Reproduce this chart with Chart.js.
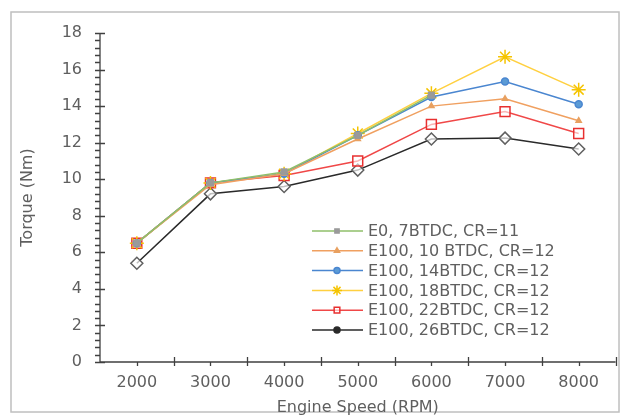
<!DOCTYPE html>
<html>
<head>
<meta charset="utf-8">
<script src="https://cdn.jsdelivr.net/npm/chart.js@4"></script>
<style>
  html, body { margin: 0; padding: 0; background: #fff; }
  #wrap { width: 624px; height: 420px; }
</style>
</head>
<body>
<div id="wrap"><canvas id="torqueChart" width="624" height="420"></canvas></div>
<script>
const speeds = ['2000', '3000', '4000', '5000', '6000', '7000', '8000'];

const e0_7btdc = [6.5, 9.8, 10.4, 12.4, 14.6, null, null];
const e100_10btdc = [6.5, 9.7, 10.3, 12.2, 14.0, 14.4, 13.2];
const e100_14btdc = [6.5, 9.8, 10.3, 12.4, 14.5, 15.35, 14.1];
const e100_18btdc = [6.5, 9.8, 10.3, 12.5, 14.7, 16.7, 14.9];
const e100_22btdc = [6.5, 9.8, 10.2, 11.0, 13.0, 13.7, 12.5];
const e100_26btdc = [5.4, 9.2, 9.6, 10.5, 12.2, 12.25, 11.65];

const seriesNames = [
  'E0, 7BTDC, CR=11',
  'E100, 10 BTDC, CR=12',
  'E100, 14BTDC, CR=12',
  'E100, 18BTDC, CR=12',
  'E100, 22BTDC, CR=12',
  'E100, 26BTDC, CR=12'
];

const FONT = '"DejaVu Sans", sans-serif';
const GREY_TEXT = '#5f5f5f';

function makeSet(label, data, color, style, radius, fill, edge) {
  return {
    label: label,
    data: data,
    borderColor: color,
    borderWidth: 1.5,
    pointStyle: style,
    pointRadius: radius,
    pointHoverRadius: radius,
    pointBackgroundColor: fill,
    pointBorderColor: edge,
    pointBorderWidth: 1.5,
    tension: 0,
    spanGaps: false
  };
}

const datasets = [
  makeSet(seriesNames[0], e0_7btdc, '#8fbf6a', 'rect', 4, '#9a9a9a', '#9a9a9a'),
  makeSet(seriesNames[1], e100_10btdc, '#f0a060', 'triangle', 3, '#e8a060', '#e8a060'),
  makeSet(seriesNames[2], e100_14btdc, '#4a86d0', 'circle', 3.5, '#5b9bd5', '#4a86d0'),
  makeSet(seriesNames[3], e100_18btdc, '#ffd040', 'star', 7, '#ffd040', '#f5c400'),
  makeSet(seriesNames[4], e100_22btdc, '#f04848', 'rect', 7, 'rgba(255,255,255,0.6)', '#e83030'),
  makeSet(seriesNames[5], e100_26btdc, '#2a2a2a', 'rectRot', 6, 'rgba(255,255,255,0.7)', '#606060')
];

// frame, axis ticks and in-plot legend
const decorations = {
  id: 'decorations',
  beforeDraw(chart) {
    const ctx = chart.ctx;
    ctx.save();
    ctx.fillStyle = '#fff';
    ctx.fillRect(0, 0, chart.width, chart.height);
    ctx.strokeStyle = '#bfbfbf';
    ctx.lineWidth = 1.5;
    ctx.strokeRect(11, 12, 608, 400);
    ctx.restore();
  },
  afterDatasetsDraw(chart) {
    const ctx = chart.ctx;
    const xs = chart.scales.x;
    const ys = chart.scales.y;
    const area = chart.chartArea;
    ctx.save();
    ctx.strokeStyle = '#404040';
    ctx.lineWidth = 1.3;
    ctx.beginPath();
    // axis lines
    ctx.moveTo(area.left, area.top);
    ctx.lineTo(area.left, area.bottom);
    ctx.lineTo(area.right, area.bottom);
    // y ticks
    for (let v = 0; v <= 18.001; v += 0.4) {
      const py = Math.round(ys.getPixelForValue(v)) + 0.5;
      const major = Math.abs(v / 2 - Math.round(v / 2)) < 0.01;
      ctx.moveTo(area.left - 5, py);
      ctx.lineTo(area.left + (major ? 5 : 0), py);
    }
    // x ticks
    const step = xs.getPixelForValue(1) - xs.getPixelForValue(0);
    for (let i = 0; i < speeds.length; i++) {
      const px = Math.round(xs.getPixelForValue(i)) + 0.5;
      ctx.moveTo(px, area.bottom);
      ctx.lineTo(px, area.bottom + 4);
      const bx = Math.round(px + step / 2) + 0.5;
      ctx.moveTo(bx, area.bottom - 5);
      ctx.lineTo(bx, area.bottom + 4);
    }
    ctx.stroke();

    // legend inside plot
    ctx.font = '16px ' + FONT;
    ctx.textBaseline = 'middle';
    ctx.textAlign = 'left';
    chart.data.datasets.forEach((ds, i) => {
      const y = 231 + i * 19.8;
      ctx.strokeStyle = ds.borderColor;
      ctx.lineWidth = 1.5;
      ctx.beginPath();
      ctx.moveTo(312, y);
      ctx.lineTo(363, y);
      ctx.stroke();
      ctx.fillStyle = ds.pointBackgroundColor;
      ctx.strokeStyle = ds.pointBorderColor;
      const r = ds.pointStyle === 'rect' && i === 4 ? 4 : (i === 3 ? 5 : 3);
      const style = i === 5 ? 'circle' : ds.pointStyle;
      if (i === 5) { ctx.fillStyle = '#2a2a2a'; ctx.strokeStyle = '#2a2a2a'; }
      Chart.helpers.drawPoint(ctx, {pointStyle: style, radius: r, borderWidth: 1.2, rotation: 0}, 337, y);
      ctx.fillStyle = GREY_TEXT;
      ctx.fillText(ds.label, 368, y + 1);
    });
    ctx.restore();
  }
};

new Chart(document.getElementById('torqueChart').getContext('2d'), {
  type: 'line',
  data: {
    labels: speeds,
    datasets: datasets
  },
  plugins: [decorations],
  options: {
    responsive: false,
    animation: false,
    layout: {
      padding: { top: 33, right: 7, bottom: 0, left: 12 }
    },
    plugins: {
      legend: { display: false },
      tooltip: { enabled: false }
    },
    scales: {
      x: {
        type: 'category',
        offset: true,
        afterFit: scale => { scale.height = 58; },
        grid: { display: false, drawTicks: false },
        border: { display: false },
        ticks: {
          color: GREY_TEXT,
          font: { family: FONT, size: 16 },
          padding: 11,
          maxRotation: 0
        },
        title: {
          display: true,
          text: 'Engine Speed (RPM)',
          color: GREY_TEXT,
          font: { family: FONT, size: 16 },
          padding: { top: 0, bottom: 3 }
        }
      },
      y: {
        min: 0,
        max: 18,
        afterFit: scale => { scale.width = 88; },
        grid: { display: false, drawTicks: false },
        border: { display: false },
        ticks: {
          stepSize: 2,
          color: GREY_TEXT,
          font: { family: FONT, size: 16 },
          padding: 18
        },
        title: {
          display: true,
          text: 'Torque (Nm)',
          color: GREY_TEXT,
          font: { family: FONT, size: 16 },
          padding: { top: 6, bottom: 0 }
        }
      }
    }
  }
});
</script>
</body>
</html>
